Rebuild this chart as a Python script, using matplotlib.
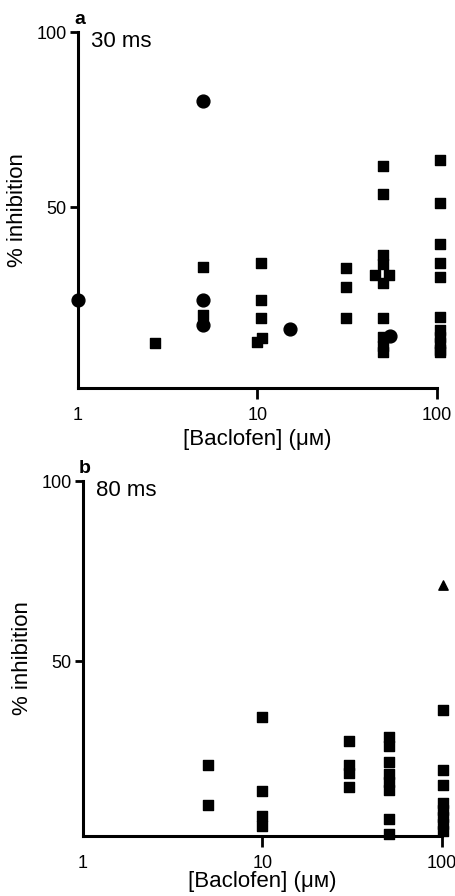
import matplotlib
matplotlib.use("Agg")
from matplotlib import pyplot as plt

plt.rcParams['font.family'] = ['Liberation Sans', 'DejaVu Sans']

# panel a (30 ms)
a_sq_x = [2.7, 5, 5, 10.5, 10.5, 10.5, 10, 10.6, 31, 31, 31,
          50, 50, 50, 50, 45, 54, 50, 50, 50, 50, 50,
          104, 104, 104, 104, 104, 104, 104, 104, 104, 104, 104]
a_sq_y = [11.1, 33, 19.2, 34, 23.4, 18.3, 11.4, 12.6, 32.6, 27.1, 18.3,
          61.8, 53.7, 36.3, 33.7, 30.5, 30.5, 28.3, 18.3, 12.9, 10.2, 8.6,
          63.4, 51.1, 39.4, 34, 30, 18.6, 14.9, 12.9, 11.1, 9.1, 8.6]
a_ci_x = [1, 5, 5, 5, 15.2, 55]
a_ci_y = [23.4, 80.3, 23.4, 16.3, 15.1, 13.2]

# panel b (80 ms)
b_sq_x = [5, 5, 10, 10, 10, 10, 30.5, 30.5, 30.5, 30.5,
          50.5, 50.5, 50.5, 50.5, 50.5, 50.5, 50.5, 50.5,
          101, 101, 101, 101, 101, 101, 101, 101]
b_sq_y = [21.0, 10.1, 34.5, 13.8, 6.9, 4.2, 27.7, 21.1, 18.9, 14.9,
          28.9, 26.4, 21.9, 18.6, 16.4, 14.2, 6.2, 2.0,
          36.5, 19.8, 15.5, 10.6, 8.6, 6.7, 4.7, 2.8]
b_tri_x = [101]
b_tri_y = [71.2]

fig = plt.figure(figsize=(4.56, 8.96), dpi=100)
ax_a = fig.add_axes([0.171, 0.567, 0.787, 0.397])
ax_b = fig.add_axes([0.182, 0.067, 0.787, 0.396])


def style(ax, ylo, tag, dur, xlab_y):
    ax.set_xscale('log')
    ax.set_xlim(1, 100)
    ax.set_ylim(ylo, 100)
    for s in ['top', 'right']:
        ax.spines[s].set_visible(False)
    for s in ['left', 'bottom']:
        ax.spines[s].set_linewidth(2.2)
    ax.set_xticks([1, 10, 100])
    ax.set_xticklabels(['1', '10', '100'])
    ax.minorticks_off()
    ax.set_yticks([50, 100])
    ax.set_yticklabels(['50', '100'])
    ax.tick_params(axis='x', length=8, width=2, pad=6, labelsize=13)
    ax.tick_params(axis='y', length=6, width=2, pad=2, labelsize=13)
    ax.xaxis.get_major_ticks()[0].tick1line.set_visible(False)
    ax.set_ylabel('% inhibition', fontsize=16)
    ax.yaxis.set_label_coords(-0.14, 0.5)
    ax.set_xlabel('[Baclofen] (\u03bc\u1d0d)', fontsize=16)
    ax.xaxis.set_label_coords(0.5, xlab_y)
    ax.text(0.005, 1.035, tag, transform=ax.transAxes, fontsize=14,
            fontweight='bold', ha='center', va='center')
    ax.text(0.035, 0.975, dur, transform=ax.transAxes, fontsize=16,
            ha='left', va='center')


style(ax_a, -1.7, 'a', '30 ms', -0.115)
style(ax_b, 1.4, 'b', '80 ms', -0.1)

ax_a.scatter(a_sq_x, a_sq_y, marker='s', s=60, color='black', clip_on=False, zorder=3)
ax_a.scatter(a_ci_x, a_ci_y, marker='o', s=85, color='black', clip_on=False, zorder=3)
ax_b.scatter(b_sq_x, b_sq_y, marker='s', s=60, color='black', clip_on=False, zorder=3)
ax_b.scatter(b_tri_x, b_tri_y, marker='^', s=45, color='black', clip_on=False, zorder=3)

fig.savefig('out.png', dpi=100)
